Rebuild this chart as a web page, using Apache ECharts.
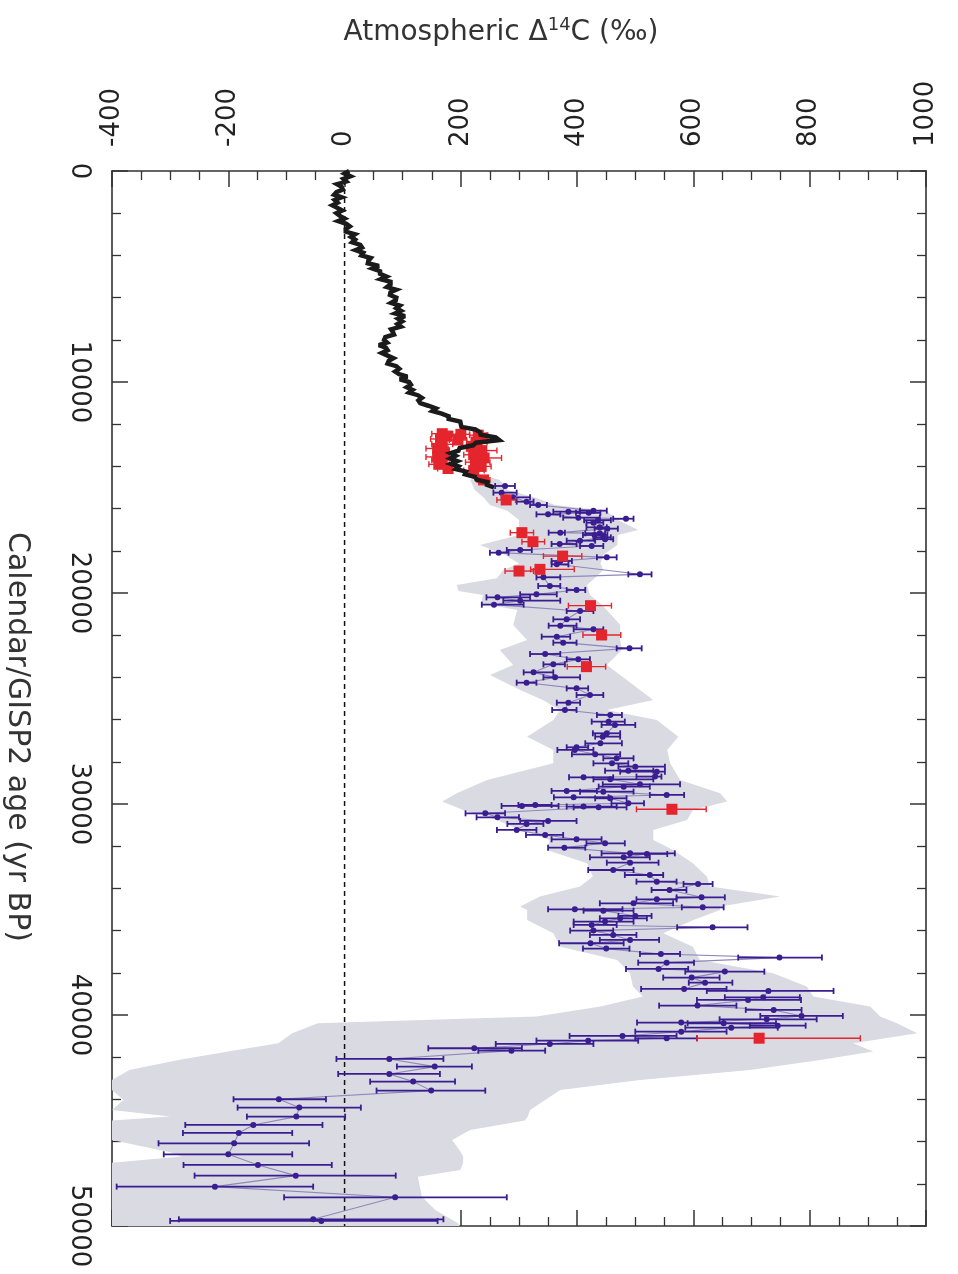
<!DOCTYPE html>
<html>
<head>
<meta charset="utf-8">
<title>Atmospheric Δ14C</title>
<script src="https://cdn.jsdelivr.net/npm/echarts@6/dist/echarts.min.js"></script>
<style>
  html, body { margin: 0; padding: 0; background: #ffffff; }
  #chart { width: 958px; height: 1274px; }
</style>
</head>
<body>
<div id="chart"></div>
<script>
// Tree-ring / varve record (calendar age, Δ14C ‰)
const ringAge = [0,125,250,375,500,625,750,875,1000,1125,1250,1375,1500,1625,1750,1875,2000,2125,2250,2375,2500,2625,2750,2875,3000,3125,3250,3375,3500,3625,3750,3875,4000,4125,4250,4375,4500,4625,4750,4875,5000,5125,5250,5375,5500,5625,5750,5875,6000,6125,6250,6375,6500,6625,6750,6875,7000,7125,7250,7375,7500,7625,7750,7875,8000,8125,8250,8375,8500,8625,8750,8875,9000,9125,9250,9375,9500,9625,9750,9875,10000,10125,10250,10375,10500,10625,10750,10875,11000,11125,11250,11375,11500,11625,11750,11875,12000,12125,12250,12375,12500,12625,12750,12875,13000,13125,13250,13375,13500,13625,13750,13875,14000,14125,14250,14375,14500,14625,14750,14875,15000];
const ringD14C = [8,0,10,-2,3,-13,-5,-3,-14,-18,-5,-17,-12,-21,-12,-4,-14,-8,0,-11,3,9,2,2,18,11,18,13,27,30,19,32,29,45,41,40,59,48,61,61,72,62,79,79,73,89,79,78,89,88,80,95,89,97,87,104,92,99,91,97,80,83,85,70,68,73,59,71,74,64,74,84,76,74,89,94,87,94,108,95,111,114,107,117,111,126,133,127,130,144,157,151,167,179,179,199,200,201,225,233,234,260,266,226,221,198,196,182,191,182,194,183,196,191,209,207,225,227,246,245,257];

// Uncertainty envelope (age, lower and upper Δ14C ‰)
const bandAge  = [14500,14644,15117,15500,15828,16100,16539,17013,17250,17724,18198,18600,18909,19300,19620,19900,20093,20500,20804,21515,22226,22700,23410,23885,24596,25070,25543,26017,26807,27439,28070,28860,29492,29887,30282,30756,31230,31703,32177,32809,33441,33915,34389,34863,35021,35495,36127,36760,37391,38023,38655,39129,39603,40077,40393,40867,41340,41735,42130,42604,43077,43551,44025,44500,44814,45000,45447,45920,46500,46711,47000,47343,47660,48608,49238,49870,50000];
const bandLow  = [225,216,224,240,250,280,300,300,300,233,276,300,273,262,193,196,238,235,297,290,314,267,290,250,302,341,371,359,314,359,359,245,193,168,204,262,302,353,348,417,427,405,336,302,314,314,359,371,469,491,496,513,440,330,-46,-90,-114,-200,-286,-370,-400,-400,-380,-400,-300,-400,-400,-400,-300,-280,-400,-400,-400,-400,-400,-400,-400];
const bandHigh = [250,267,280,330,362,450,470,505,470,469,445,440,445,430,417,420,422,440,451,474,474,477,451,474,508,531,451,537,574,555,560,577,646,658,599,589,531,531,565,599,623,629,749,646,646,600,548,599,611,737,795,806,904,921,950,985,875,909,818,697,508,371,345,319,315,310,216,185,200,204,204,199,126,133,156,195,198];

// Coral / sediment Δ14C with 1σ ranges
const purpleAge  = [14928,15244,15466,15671,15830,16098,16145,16200,16272,16430,16480,16550,16667,16888,16950,17140,17172,17250,17362,17450,17520,17677,17772,17962,18088,18310,18483,18641,19115,19258,19668,19858,20063,20206,20364,20553,20853,21248,21549,21722,22070,22354,22623,22892,23144,23381,23761,23998,24250,24520,24835,25198,25543,25780,26096,26254,26649,26807,27123,27313,27439,27644,27834,28071,28229,28419,28466,28700,28735,28830,29066,29177,29382,29414,29572,29683,29730,29967,30046,30093,30120,30157,30441,30630,30804,30946,31231,31468,31673,31863,32068,32337,32368,32527,32780,33127,33364,33680,33790,34075,34423,34517,34707,34896,34991,35055,35305,35416,35574,35732,35843,36000,36206,36443,36600,36854,37107,37280,37518,37818,37944,38228,38466,38766,38860,39160,39287,39555,39760,40046,40204,40360,40390,40504,40600,40788,40993,41104,41215,41373,41577,41690,42083,42446,42794,43157,43584,43994,44389,44816,45211,45590,46080,46601,47107,47613,48134,48640,49682,49760];
const purpleD14C = [276,270,290,313,333,428,385,420,350,402,484,436,428,439,452,371,439,430,445,448,405,370,425,302,265,451,371,365,508,342,353,399,330,263,302,257,405,382,371,428,365,376,490,345,402,359,325,362,313,399,422,385,379,457,454,465,451,444,440,399,396,431,468,460,500,488,537,534,411,457,508,480,382,445,554,394,457,488,328,305,411,437,242,263,350,313,296,345,399,448,378,491,520,480,491,462,525,537,608,559,614,537,497,616,396,445,500,474,448,425,633,428,462,491,423,450,544,748,554,540,654,597,620,584,729,720,694,607,738,786,726,579,652,745,665,579,478,554,419,353,223,287,77,155,77,118,149,-113,-78,-83,-157,-182,-190,-200,-149,-84,-223,87,-54,-40];
const purpleLow  = [259,256,270,296,319,405,359,398,330,376,462,412,416,416,430,351,414,410,428,430,382,356,405,279,250,434,356,356,488,330,333,382,302,244,273,236,382,359,351,394,339,359,468,319,382,342,308,342,296,382,399,365,357,434,425,442,427,431,414,382,366,391,445,428,471,448,474,502,386,428,444,437,356,405,525,360,431,459,299,270,382,394,208,227,302,280,262,312,356,416,350,442,490,422,451,419,482,502,583,528,571,502,439,580,350,411,471,439,394,394,572,388,422,439,369,410,508,677,505,484,586,548,592,510,623,654,606,541,690,715,645,503,590,697,586,500,387,500,330,260,144,230,-14,90,-11,44,55,-191,-184,-168,-274,-278,-320,-311,-277,-258,-392,-104,-285,-300];
const purpleHigh = [293,296,319,325,348,451,405,440,371,439,497,458,445,451,470,379,448,452,458,462,431,399,445,322,282,468,391,385,528,371,371,414,365,319,371,308,428,405,399,445,388,399,511,371,422,379,359,405,330,419,445,405,399,477,482,500,474,474,477,419,428,474,497,488,551,531,551,545,462,531,577,525,434,497,584,454,485,515,356,368,468,485,276,300,399,342,330,376,442,482,414,568,555,525,540,497,548,571,633,588,654,571,565,652,478,497,528,520,497,468,693,462,502,541,480,490,577,821,601,591,722,645,667,657,841,783,785,674,786,857,812,652,742,793,745,657,571,606,505,428,305,345,170,219,164,190,242,-32,28,1,-38,-90,-61,-90,-22,88,-54,279,170,160];

// Independent calendar-dated samples
const redAge  = [12450,12480,12520,12560,12650,12700,12750,12850,12950,13050,13150,13250,13350,13450,13550,13600,13700,13800,13900,14000,14100,14200,14640,15590,17140,17570,18250,18880,18960,20600,21990,23490,30250,41100];
const redD14C = [168,200,230,176,238,165,195,226,168,218,160,236,172,222,160,240,168,225,162,235,178,222,239,278,305,324,375,336,300,423,442,416,563,713];
const redLow  = [150,185,215,160,222,148,180,210,150,202,140,220,155,205,140,222,150,208,145,218,160,205,228,262,285,305,342,320,276,385,410,383,502,606];
const redHigh = [186,215,245,192,254,182,210,245,186,236,178,262,190,240,176,270,185,250,180,252,196,240,250,294,325,344,408,395,325,459,475,449,622,887];

// Reference line at Δ14C = 0
const zeroLine = [[0, 0], [0, 50000]];

const FONT = 'DejaVu Sans';
const INK = '#333333';
const PURPLE = '#3a1d90';
const RED = '#e5252d';

const chart = echarts.init(document.getElementById('chart'), null, { renderer: 'canvas' });

function errorBarRenderer(color, lineWidth, markerKind) {
  return function (params, api) {
    const v = api.value(0), age = api.value(1), lo = api.value(2), hi = api.value(3);
    const pLo = api.coord([lo, age]);
    const pHi = api.coord([hi, age]);
    const p = api.coord([v, age]);
    const cap = 3;
    const ls = { stroke: color, lineWidth: lineWidth };
    const children = [
      { type: 'line', shape: { x1: pLo[0], y1: pLo[1], x2: pHi[0], y2: pHi[1] }, style: ls },
      { type: 'line', shape: { x1: pLo[0], y1: pLo[1] - cap, x2: pLo[0], y2: pLo[1] + cap }, style: ls },
      { type: 'line', shape: { x1: pHi[0], y1: pHi[1] - cap, x2: pHi[0], y2: pHi[1] + cap }, style: ls }
    ];
    if (markerKind === 'circle') {
      children.push({ type: 'circle', shape: { cx: p[0], cy: p[1], r: 3 }, style: { fill: color } });
    } else {
      const s = 5.5;
      children.push({ type: 'rect', shape: { x: p[0] - s, y: p[1] - s, width: 2 * s, height: 2 * s }, style: { fill: color } });
    }
    return { type: 'group', children: children };
  };
}

function bandRenderer(params, api) {
  if (params.dataIndex !== 0) return;
  const pts = [];
  for (let i = 0; i < bandAge.length; i++) pts.push(api.coord([bandLow[i], bandAge[i]]));
  for (let i = bandAge.length - 1; i >= 0; i--) pts.push(api.coord([bandHigh[i], bandAge[i]]));
  return { type: 'polygon', shape: { points: pts }, style: { fill: '#d9dae2' } };
}

const plainNumber = (v) => String(v);
const tickCommon = { inside: true, length: 16, lineStyle: { color: INK, width: 1.5 } };
const minorCommon = { show: true, length: 9, lineStyle: { color: INK, width: 1.3 } };
const lineCommon = { show: true, onZero: false, lineStyle: { color: INK, width: 1.6 } };
const labelCommon = { rotate: -90, fontSize: 26, fontFamily: FONT, color: '#222', formatter: plainNumber };

const option = {
  animation: false,
  backgroundColor: '#ffffff',
  grid: { left: 112, right: 32, top: 171, bottom: 48, containLabel: false },
  xAxis: [
    { type: 'value', position: 'top', min: -400, max: 1000, interval: 200,
      axisLine: lineCommon, axisTick: tickCommon, minorTick: Object.assign({ splitNumber: 4 }, minorCommon),
      splitLine: { show: false }, axisLabel: Object.assign({ margin: 24 }, labelCommon) },
    { type: 'value', position: 'bottom', min: -400, max: 1000, interval: 200,
      axisLine: lineCommon, axisTick: tickCommon, minorTick: Object.assign({ splitNumber: 4 }, minorCommon),
      splitLine: { show: false }, axisLabel: { show: false } }
  ],
  yAxis: [
    { type: 'value', position: 'left', inverse: true, min: 0, max: 50000, interval: 10000,
      axisLine: lineCommon, axisTick: tickCommon, minorTick: Object.assign({ splitNumber: 5 }, minorCommon),
      splitLine: { show: false }, axisLabel: Object.assign({ margin: 20 }, labelCommon) },
    { type: 'value', position: 'right', inverse: true, min: 0, max: 50000, interval: 10000,
      axisLine: lineCommon, axisTick: tickCommon, minorTick: Object.assign({ splitNumber: 5 }, minorCommon),
      splitLine: { show: false }, axisLabel: { show: false } }
  ],
  graphic: [
    { type: 'text', x: 501, y: 33, z: 10,
      style: { text: '{a|Atmospheric Δ}{s|14}{a|C (‰)}', textAlign: 'center', textVerticalAlign: 'middle',
        rich: { a: { fontSize: 28, fontFamily: FONT, fill: INK, lineHeight: 34 },
                s: { fontSize: 18, fontFamily: FONT, fill: INK, verticalAlign: 'top', lineHeight: 34 } } } },
    { type: 'text', x: 17, y: 737, rotation: -Math.PI / 2, z: 10,
      style: { text: 'Calendar/GISP2 age (yr BP)', textAlign: 'center', textVerticalAlign: 'middle',
        fontSize: 30, fontFamily: FONT, fill: INK } }
  ],
  series: [
    { type: 'custom', name: 'envelope', renderItem: bandRenderer, z: 1, silent: true,
      data: bandAge.map((a, i) => [bandLow[i], a, bandHigh[i]]), encode: { x: [0, 2], y: 1 } },
    { type: 'line', name: 'zero', data: zeroLine, symbol: 'none', z: 2, silent: true,
      lineStyle: { color: '#111', width: 1.5, type: [5, 4] } },
    { type: 'line', name: 'connector', data: purpleAge.map((a, i) => [purpleD14C[i], a]), symbol: 'none', z: 3,
      lineStyle: { color: '#8f88bb', width: 1.1 }, silent: true },
    { type: 'custom', name: 'samples', renderItem: errorBarRenderer(PURPLE, 1.8, 'circle'), z: 4,
      data: purpleAge.map((a, i) => [purpleD14C[i], a, purpleLow[i], purpleHigh[i]]), encode: { x: [0, 2, 3], y: 1 } },
    { type: 'custom', name: 'dated', renderItem: errorBarRenderer(RED, 1.4, 'rect'), z: 5,
      data: redAge.map((a, i) => [redD14C[i], a, redLow[i], redHigh[i]]), encode: { x: [0, 2, 3], y: 1 } },
    { type: 'line', name: 'tree-ring', data: ringAge.map((a, i) => [ringD14C[i], a]), symbol: 'none', z: 6,
      lineStyle: { color: '#1b1b1b', width: 4.5, join: 'miter', miterLimit: 3 } }
  ]
};

chart.setOption(option);
</script>
</body>
</html>
